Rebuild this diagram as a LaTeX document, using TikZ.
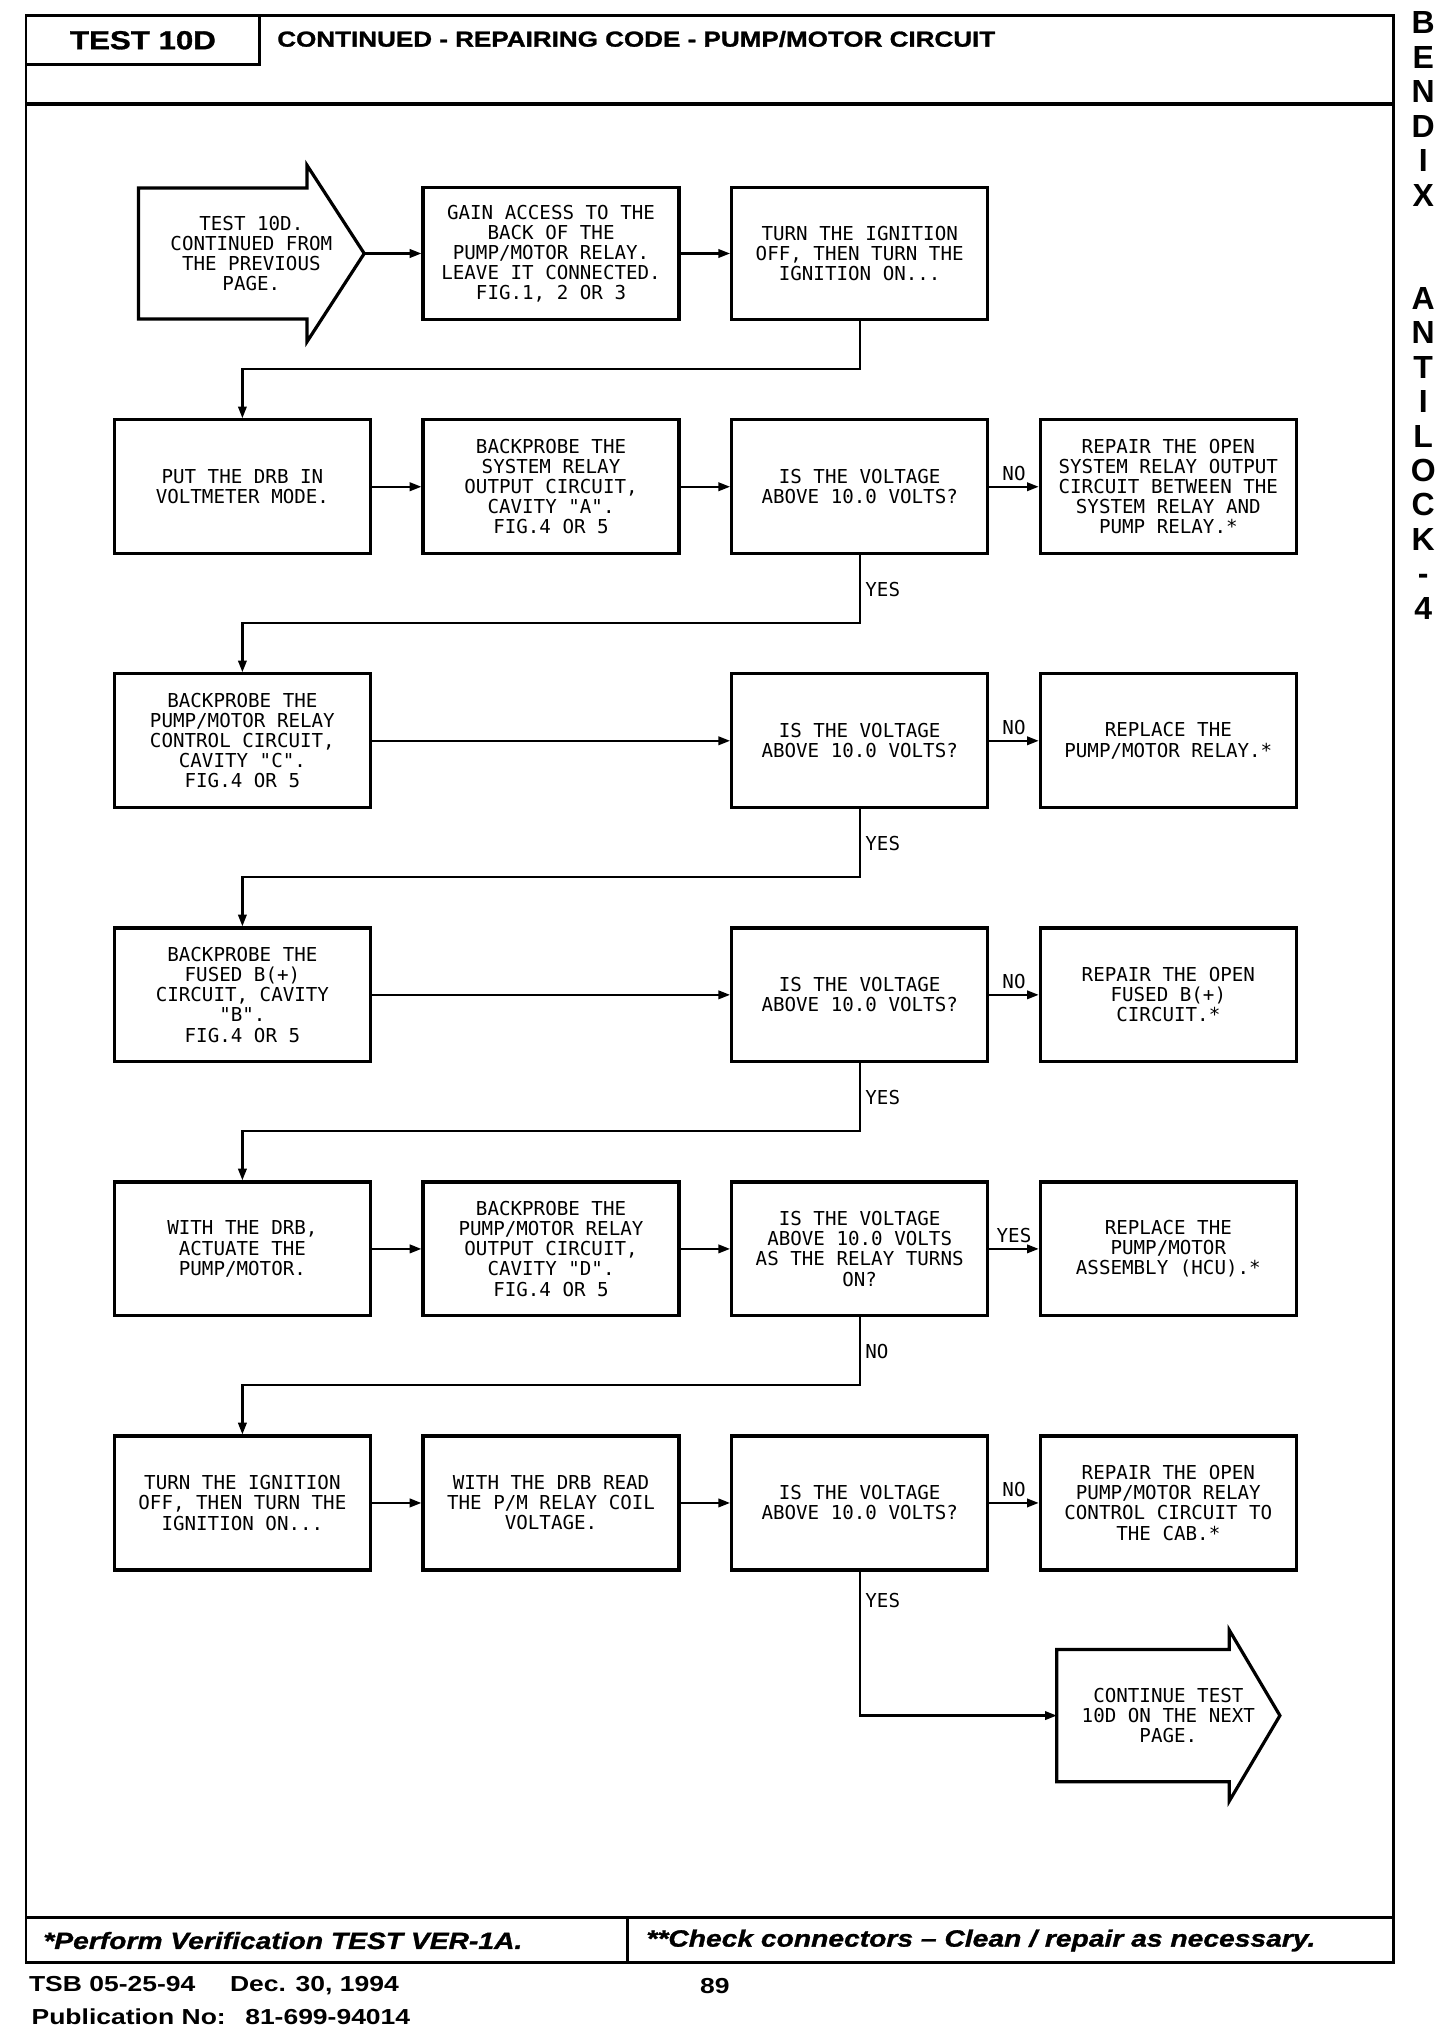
\documentclass[tikz,border=0pt]{standalone}
\usepackage{fontspec}
\setmainfont{Liberation Sans}
\newfontfamily\plotfont{DejaVu Sans Mono}
\newfontfamily\widefont[FakeStretch=1.22]{Liberation Sans}
\newfontfamily\blackfont[FakeStretch=1.2, FakeBold=1.2]{Liberation Sans}
\usetikzlibrary{arrows.meta, positioning, calc}

\begin{document}
\begin{tikzpicture}[
    node distance=1.8cm and 0.76cm,
    every node/.style={font=\plotfont\fontsize{8.4}{8.8}\selectfont},
    box/.style={rectangle, draw, line width=1.4pt, minimum width=3.94cm, minimum height=2.06cm, align=center, inner sep=1pt},
    pagearrow/.style={rectangle, minimum height=2cm, align=center, inner sep=1pt},
    arrowline/.style={line width=1.4pt, line join=miter},
    arrow/.style={-{Triangle[length=1.8mm, width=1.3mm]}, line width=1pt},
    pageframe/.style={line width=1.3pt},
    tag/.style={inner sep=2pt},
    hdr/.style={font=\blackfont\bfseries\fontsize{9.5}{11}\selectfont, inner sep=0pt},
    foot/.style={font=\blackfont\bfseries\itshape\fontsize{10.3}{12}\selectfont, inner sep=0pt, anchor=west},
    info/.style={font=\widefont\bfseries\fontsize{9.5}{11}\selectfont, inner sep=0pt, anchor=west},
    brand/.style={font=\bfseries\fontsize{14}{14}\selectfont, inner sep=0pt, text height=0.36cm, text depth=0pt}
]
\useasboundingbox (0,0) rectangle (22.4,-31.36);
% Page frame
\draw[pageframe] (0.4,-0.24) rectangle (21.44,-30.2);
\draw[pageframe, line width=1.7pt] (0.4,-1.6) -- (21.44,-1.6);
\draw[pageframe] (0.4,-1.0) -- (4.0,-1.0) -- (4.0,-0.24);
\draw[pageframe] (0.4,-29.5) -- (21.44,-29.5);
\draw[pageframe] (9.66,-29.5) -- (9.66,-30.2);
% Header and footer
\node[hdr, font=\blackfont\bfseries\fontsize{11.4}{13}\selectfont] (testid) at (2.2,-0.62) {TEST 10D};
\node[hdr, anchor=west] (title) at (4.26,-0.6) {CONTINUED - REPAIRING CODE - PUMP/MOTOR CIRCUIT};
\node[foot] (verify) at (0.66,-29.86) {*Perform Verification TEST VER-1A.};
\node[foot] (conn) at (9.94,-29.86) {**Check connectors – Clean / repair as necessary.};
\node[info] (tsb) at (0.44,-30.56) {TSB 05-25-94\hspace{1.6em}Dec. 30, 1994};
\node[info, anchor=center] (pgno) at (11.0,-30.56) {89};
\node[info] (pubno) at (0.48,-31.04) {Publication No:\hspace{0.9em}81-699-94014};
\foreach \ch [count=\i from 0] in {B,E,N,D,I,X}
    \node[brand] (bx\i) at (21.9,{-0.34-0.53*\i}) {\ch};
\foreach \ch [count=\i from 0] in {A,N,T,I,L,O,C,K,-,4}
    \node[brand] (al\i) at (21.9,{-4.58-0.53*\i}) {\ch};
% Row 2
\node[box] (drb) at (3.73,-7.49) {PUT THE DRB IN\\VOLTMETER MODE.};
\node[box, right=of drb] (bpa) {BACKPROBE THE\\SYSTEM RELAY\\OUTPUT CIRCUIT,\\CAVITY "A".\\FIG.4 OR 5};
\node[box, right=of bpa] (vsys) {IS THE VOLTAGE\\ABOVE 10.0 VOLTS?};
\node[box, right=of vsys] (rsys) {REPAIR THE OPEN\\SYSTEM RELAY OUTPUT\\CIRCUIT BETWEEN THE\\SYSTEM RELAY AND\\PUMP RELAY.*};
% Row 1
\node[box, minimum height=2.02cm, above=1.5cm of bpa] (gain) {GAIN ACCESS TO THE\\BACK OF THE\\PUMP/MOTOR RELAY.\\LEAVE IT CONNECTED.\\FIG.1, 2 OR 3};
\node[box, minimum height=2.02cm, above=1.5cm of vsys] (ign1) {TURN THE IGNITION\\OFF, THEN TURN THE\\IGNITION ON...};
\node[pagearrow, minimum width=3.46cm, left=0.88cm of gain] (start) {TEST 10D.\\CONTINUED FROM\\THE PREVIOUS\\PAGE.};
\draw[arrowline] ($(start.north east)+(-0.88,0)$) -- (start.north west) -- (start.south west) -- ($(start.south east)+(-0.88,0)$) -- ++(0,-0.35) -- (start.east) -- ($(start.north east)+(-0.88,0.35)$) -- cycle;
% Row 3
\node[box, below=of drb] (bpc) {BACKPROBE THE\\PUMP/MOTOR RELAY\\CONTROL CIRCUIT,\\CAVITY "C".\\FIG.4 OR 5};
\node[box, below=of vsys] (vctl) {IS THE VOLTAGE\\ABOVE 10.0 VOLTS?};
\node[box, below=of rsys] (rrly) {REPLACE THE\\PUMP/MOTOR RELAY.*};
% Row 4
\node[box, below=of bpc] (bpb) {BACKPROBE THE\\FUSED B(+)\\CIRCUIT, CAVITY\\"B".\\FIG.4 OR 5};
\node[box, below=of vctl] (vfus) {IS THE VOLTAGE\\ABOVE 10.0 VOLTS?};
\node[box, below=of rrly] (rfus) {REPAIR THE OPEN\\FUSED B(+)\\CIRCUIT.*};
% Row 5
\node[box, below=of bpb] (act) {WITH THE DRB,\\ACTUATE THE\\PUMP/MOTOR.};
\node[box, right=of act] (bpd) {BACKPROBE THE\\PUMP/MOTOR RELAY\\OUTPUT CIRCUIT,\\CAVITY "D".\\FIG.4 OR 5};
\node[box, right=of bpd] (vout) {IS THE VOLTAGE\\ABOVE 10.0 VOLTS\\AS THE RELAY TURNS\\ON?};
\node[box, right=of vout] (rhcu) {REPLACE THE\\PUMP/MOTOR\\ASSEMBLY (HCU).*};
% Row 6
\node[box, below=of act] (ign2) {TURN THE IGNITION\\OFF, THEN TURN THE\\IGNITION ON...};
\node[box, right=of ign2] (coil) {WITH THE DRB READ\\THE P/M RELAY COIL\\VOLTAGE.};
\node[box, right=of coil] (vcoil) {IS THE VOLTAGE\\ABOVE 10.0 VOLTS?};
\node[box, right=of vcoil] (rcab) {REPAIR THE OPEN\\PUMP/MOTOR RELAY\\CONTROL CIRCUIT TO\\THE CAB.*};
% Exit
\node[pagearrow, minimum width=3.42cm, minimum height=2.02cm, below=1.2cm of rcab] (next) {CONTINUE TEST\\10D ON THE NEXT\\PAGE.};
\draw[arrowline] ($(next.north east)+(-0.78,0)$) -- (next.north west) -- (next.south west) -- ($(next.south east)+(-0.78,0)$) -- ++(0,-0.3) -- (next.east) -- ($(next.north east)+(-0.78,0.3)$) -- cycle;
% Flow
\draw[arrow] (start.east) -- (gain);
\draw[arrow] (gain) -- (ign1);
\draw[arrow] (ign1.south) -- ++(0,-0.74) -| (drb.north);
\draw[arrow] (drb) -- (bpa);
\draw[arrow] (bpa) -- (vsys);
\draw[arrow] (vsys) -- node[tag, above] {NO} (rsys);
\draw[arrow] (vsys.south) -- node[tag, right] {YES} ++(0,-1.04) -| (bpc.north);
\draw[arrow] (bpc) -- (vctl);
\draw[arrow] (vctl) -- node[tag, above] {NO} (rrly);
\draw[arrow] (vctl.south) -- node[tag, right] {YES} ++(0,-1.04) -| (bpb.north);
\draw[arrow] (bpb) -- (vfus);
\draw[arrow] (vfus) -- node[tag, above] {NO} (rfus);
\draw[arrow] (vfus.south) -- node[tag, right] {YES} ++(0,-1.04) -| (act.north);
\draw[arrow] (act) -- (bpd);
\draw[arrow] (bpd) -- (vout);
\draw[arrow] (vout) -- node[tag, above] {YES} (rhcu);
\draw[arrow] (vout.south) -- node[tag, right] {NO} ++(0,-1.04) -| (ign2.north);
\draw[arrow] (ign2) -- (coil);
\draw[arrow] (coil) -- (vcoil);
\draw[arrow] (vcoil) -- node[tag, above] {NO} (rcab);
\draw[arrow] (vcoil.south) |- node[tag, right, pos=0.1] {YES} (next.west);
\end{tikzpicture}
\end{document}
